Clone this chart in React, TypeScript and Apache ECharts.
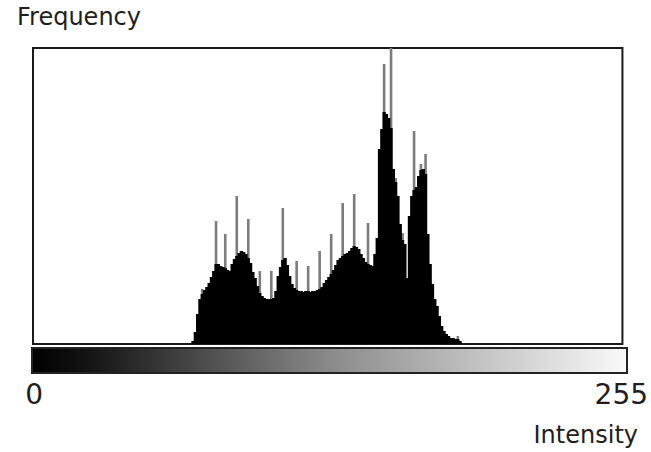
import React, { useEffect, useRef } from "react";
import * as echarts from "echarts";

// Intensity levels 0..255
const intensityLevels: string[] = Array.from({ length: 256 }, (_, i) => String(i));
const tickLabels: string[] = ["0", "255"];

// Smooth histogram envelope (black), starting at intensity 69
const envelopeStart = 69;
const envelopeValues: number[] = [
  3, 12, 30, 45, 50, 54, 57, 61, 67, 73,
  80, 80, 78, 77, 76, 74, 73, 80, 85, 88,
  91, 93, 92, 90, 86, 81, 72, 66, 58, 51,
  48, 46, 45, 45, 45, 46, 53, 68, 77, 84,
  86, 79, 68, 60, 56, 54, 53, 53, 52, 53,
  53, 52, 53, 53, 54, 55, 57, 61, 64, 67,
  70, 74, 79, 84, 86, 88, 90, 91, 93, 96,
  98, 97, 95, 90, 86, 82, 80, 79,
  78, 90, 106, 195, 215, 232, 230, 226, 216, 175,
  162, 148, 120, 104, 100, 66, 128, 148, 154, 157,
  168, 174, 175, 170, 110, 80, 60, 45, 38, 28,
  18, 13, 10, 8, 6, 6, 5, 5, 3, 0,
];

// Grey spikes (comb peaks)
const spikeBins: number[] = [73, 79, 83, 88, 93, 98, 103, 108, 114, 119, 124, 129, 134, 139, 145, 152, 155, 157, 160, 165, 168, 170, 184];
const spikeValues: number[] = [55, 123, 110, 148, 125, 73, 73, 136, 83, 78, 93, 110, 141, 150, 121, 280, 296, 166, 111, 213, 180, 190, 8];

const yMax = 296;

export default function App() {
  const ref = useRef<HTMLDivElement>(null);
  useEffect(() => {
    if (!ref.current) return;
    const chart = echarts.init(ref.current, null, { renderer: "svg" });

    const envelope: number[] = intensityLevels.map(() => 0);
    envelopeValues.forEach((v, i) => {
      envelope[envelopeStart + i] = v;
    });
    const spikes: number[] = intensityLevels.map(() => 0);
    spikeBins.forEach((b, i) => {
      spikes[b] = spikeValues[i];
    });

    const font = "DejaVu Sans";
    const hiddenAxis = {
      axisLine: { show: false },
      axisTick: { show: false },
      splitLine: { show: false },
    };
    chart.setOption({
      animation: false,
      backgroundColor: "#ffffff",
      title: [
        {
          text: "Frequency",
          left: 17,
          top: 5,
          padding: 0,
          textStyle: { fontFamily: font, fontSize: 24, fontWeight: "normal", color: "#1e1e1e" },
        },
        {
          text: "Intensity",
          right: 13,
          top: 423,
          padding: 0,
          textStyle: { fontFamily: font, fontSize: 24, fontWeight: "normal", color: "#1e1e1e" },
        },
      ],
      grid: {
        left: 33,
        right: 24,
        top: 48,
        bottom: 108,
        show: true,
        borderColor: "#1a1a1a",
        borderWidth: 2,
        backgroundColor: "#ffffff",
        containLabel: false,
      },
      xAxis: [
        {
          type: "category",
          data: intensityLevels,
          boundaryGap: true,
          ...hiddenAxis,
          axisLabel: {
            show: true,
            interval: (index: number, value: string) => tickLabels.includes(value),
            margin: 36,
            fontFamily: font,
            fontSize: 28,
            color: "#1e1e1e",
          },
        },
        {
          type: "category",
          data: intensityLevels,
          boundaryGap: true,
          position: "bottom",
          ...hiddenAxis,
          axisLabel: { show: false },
        },
      ],
      yAxis: {
        type: "value",
        min: 0,
        max: yMax,
        ...hiddenAxis,
        axisLabel: { show: false },
      },
      graphic: [
        {
          type: "rect",
          shape: { x: 32, y: 348, width: 595, height: 25 },
          style: {
            fill: new echarts.graphic.LinearGradient(0, 0, 1, 0, [
              { offset: 0, color: "#000000" },
              { offset: 0.1, color: "#151515" },
              { offset: 0.5, color: "#8a8a8a" },
              { offset: 1, color: "#fafafa" },
            ]),
            stroke: "#222",
            lineWidth: 2,
          },
        },
      ],
      series: [
        {
          type: "bar",
          xAxisIndex: 1,
          data: spikes,
          barWidth: 2.6,
          z: 1,
          itemStyle: { color: "#7c7c7c" },
          silent: true,
        },
        {
          type: "bar",
          xAxisIndex: 0,
          data: envelope,
          barWidth: 3.3,
          z: 2,
          itemStyle: { color: "#000" },
          silent: true,
        },
      ],
    });
    return () => chart.dispose();
  }, []);
  return (
    <div
      ref={ref}
      style={{ position: "absolute", left: 0, top: 0, width: 651, height: 452 }}
    />
  );
}
